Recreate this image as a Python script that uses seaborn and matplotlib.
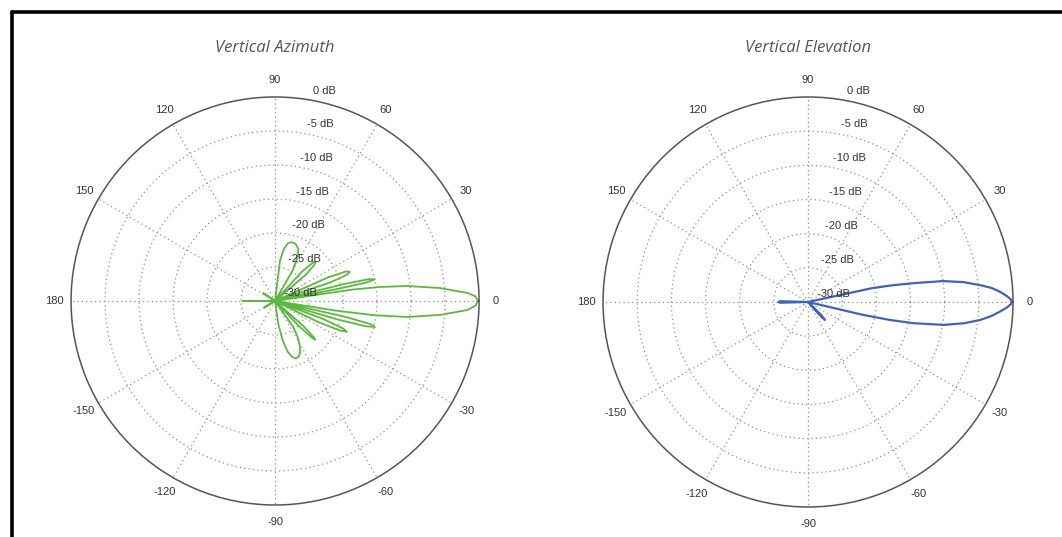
import numpy as np
import pandas as pd
import matplotlib
matplotlib.use("Agg")
import matplotlib.pyplot as plt
import seaborn as sns
from matplotlib.lines import Line2D

# pattern values (angle in degrees, level in dB)
az_deg = [-180, -178, -152, -150, -148, -146, -85,
          -82, -79, -76, -73, -70, -67, -64, -61, -58, -55, -52,
          -48, -46.5, -45, -44, -43, -41.5, -40,
          -27.5, -26, -24.5, -23.2, -22, -20.5, -19,
          -17.5, -16.5, -15.6, -14.6, -13.6, -12.7, -11.8,
          -9.8, -9.0, -8.2, -6.9, -4.8, -2.7, -1.3, 0, 1.3, 2.4, 4.5, 6.5, 7.6, 8.4, 9.0,
          10.3, 10.9, 11.4, 12.2, 13.1, 13.8, 14.5,
          17, 18.5, 20, 21.3, 22.6, 24, 25.5,
          38.5, 40.5, 42.5, 44, 45.5, 47.5, 49.5,
          57, 60, 63, 66, 70, 74, 77.5, 80.5, 83, 86,
          143, 145, 146.5, 148, 150, 178, 180]
az_db = [-25.3, -30, -30, -28.6, -28.1, -30, -30,
         -26.5, -24.0, -22.3, -21.4, -21.0, -21.1, -21.6, -22.5, -23.7, -25.3, -30,
         -30, -25.0, -22.5, -21.8, -22.3, -24.5, -30,
         -30, -23.0, -19.6, -18.5, -19.2, -22.5, -30,
         -30, -20.5, -16.2, -14.8, -15.6, -19.5, -30,
         -30, -21.0, -15.4, -10.4, -5.6, -1.7, -0.5, -0.2, -0.5, -1.7, -5.7, -10.5, -14.5, -18.5, -30,
         -30, -21.0, -16.5, -15.0, -15.8, -19.5, -30,
         -30, -21.5, -18.8, -18.2, -18.7, -21.5, -30,
         -30, -24.0, -22.2, -21.7, -22.1, -24.2, -30,
         -30, -24.8, -22.6, -21.6, -21.1, -21.0, -21.3, -22.3, -24.0, -30,
         -30, -28.4, -27.9, -28.2, -30, -30, -25.3]

el_deg = [-180, -178.5, -177, -50, -48, -46.6, -45, -43, -14, -13.2, -12.4, -11.4, -9.6,
          -7.8, -6.0, -4.4, -2.9, -1.6, -0.6, 0, 0.7, 1.7, 3.1, 4.4, 5.6, 7.3, 8.8,
          10.1, 11.2, 12.2, 13.5, 177, 178.5, 180]
el_db = [-25.7, -25.9, -30, -30, -27.0, -26.4, -27.2, -30, -30, -21.8, -17.8, -14.3, -9.9,
         -7.0, -4.7, -3.1, -1.9, -0.9, -0.3, -0.2, -0.3, -0.9, -1.9, -3.1, -4.7, -7.1, -10.0,
         -14.3, -17.4, -20.5, -30, -30, -25.9, -25.7]

angle_ticks = [0, 30, 60, 90, 120, 150, 180, -150, -120, -90, -60, -30]
db_ticks = [0, -5, -10, -15, -20, -25, -30]

titles = ["Vertical Azimuth", "Vertical Elevation"]
colors = ["#5cb93f", "#4262b8"]

sns.set_theme(style="white")
plt.rcParams['font.family'] = ['Liberation Sans', 'DejaVu Sans']

fig = plt.figure(figsize=(10.62, 5.37), dpi=100)
boxes = [[0.0669, 0.0596, 0.3842, 0.7598], [0.5678, 0.0559, 0.3861, 0.7635]]
title_x = [275 / 1062, 808 / 1062]

series = [(az_deg, az_db), (el_deg, el_db)]
for i, (deg, db) in enumerate(series):
    ax = fig.add_axes(boxes[i], projection='polar')
    df = pd.DataFrame({'theta': np.deg2rad(deg), 'db': db})
    sns.lineplot(data=df, x='theta', y='db', ax=ax, sort=False, estimator=None,
                 color=colors[i], linewidth=1.3 if i == 0 else 1.6)
    ax.set_ylim(-30, 0)
    ax.set_xticks(np.deg2rad(np.arange(0, 360, 30)))
    ax.set_xticklabels([])
    ax.set_yticks([-25, -20, -15, -10, -5])
    ax.set_yticklabels([])
    ax.set_xlabel('')
    ax.set_ylabel('')
    ax.grid(True, linestyle=(0, (1, 2.5)), color='#8f8f8f', linewidth=0.9)
    ax.spines['polar'].set_color('#555555')
    ax.spines['polar'].set_linewidth(1.1)
    ax.set_facecolor('white')

    for a in angle_ticks:
        ax.text(np.deg2rad(a), 2.45, str(a), ha='center', va='center',
                fontsize=8, color='#333333', clip_on=False)
    for d in db_ticks:
        ax.annotate(f"{d} dB", xy=(np.deg2rad(83), d), xytext=(25, 8),
                    textcoords='offset pixels', ha='center', va='center',
                    fontsize=8, color='#333333', annotation_clip=False)

    fig.text(title_x[i], 1 - 48 / 537, titles[i], ha='center', va='center',
             fontsize=12, style='italic', color='#555555', family=['Open Sans', 'DejaVu Sans'])

# frame along the top and left edges
fig.add_artist(Line2D([12 / 1062, 1], [1 - 12 / 537, 1 - 12 / 537], color='black',
                      linewidth=2.6, transform=fig.transFigure))
fig.add_artist(Line2D([12 / 1062, 12 / 1062], [0, 1 - 12 / 537], color='black',
                      linewidth=2.6, transform=fig.transFigure))

fig.savefig("out.png", dpi=100)
